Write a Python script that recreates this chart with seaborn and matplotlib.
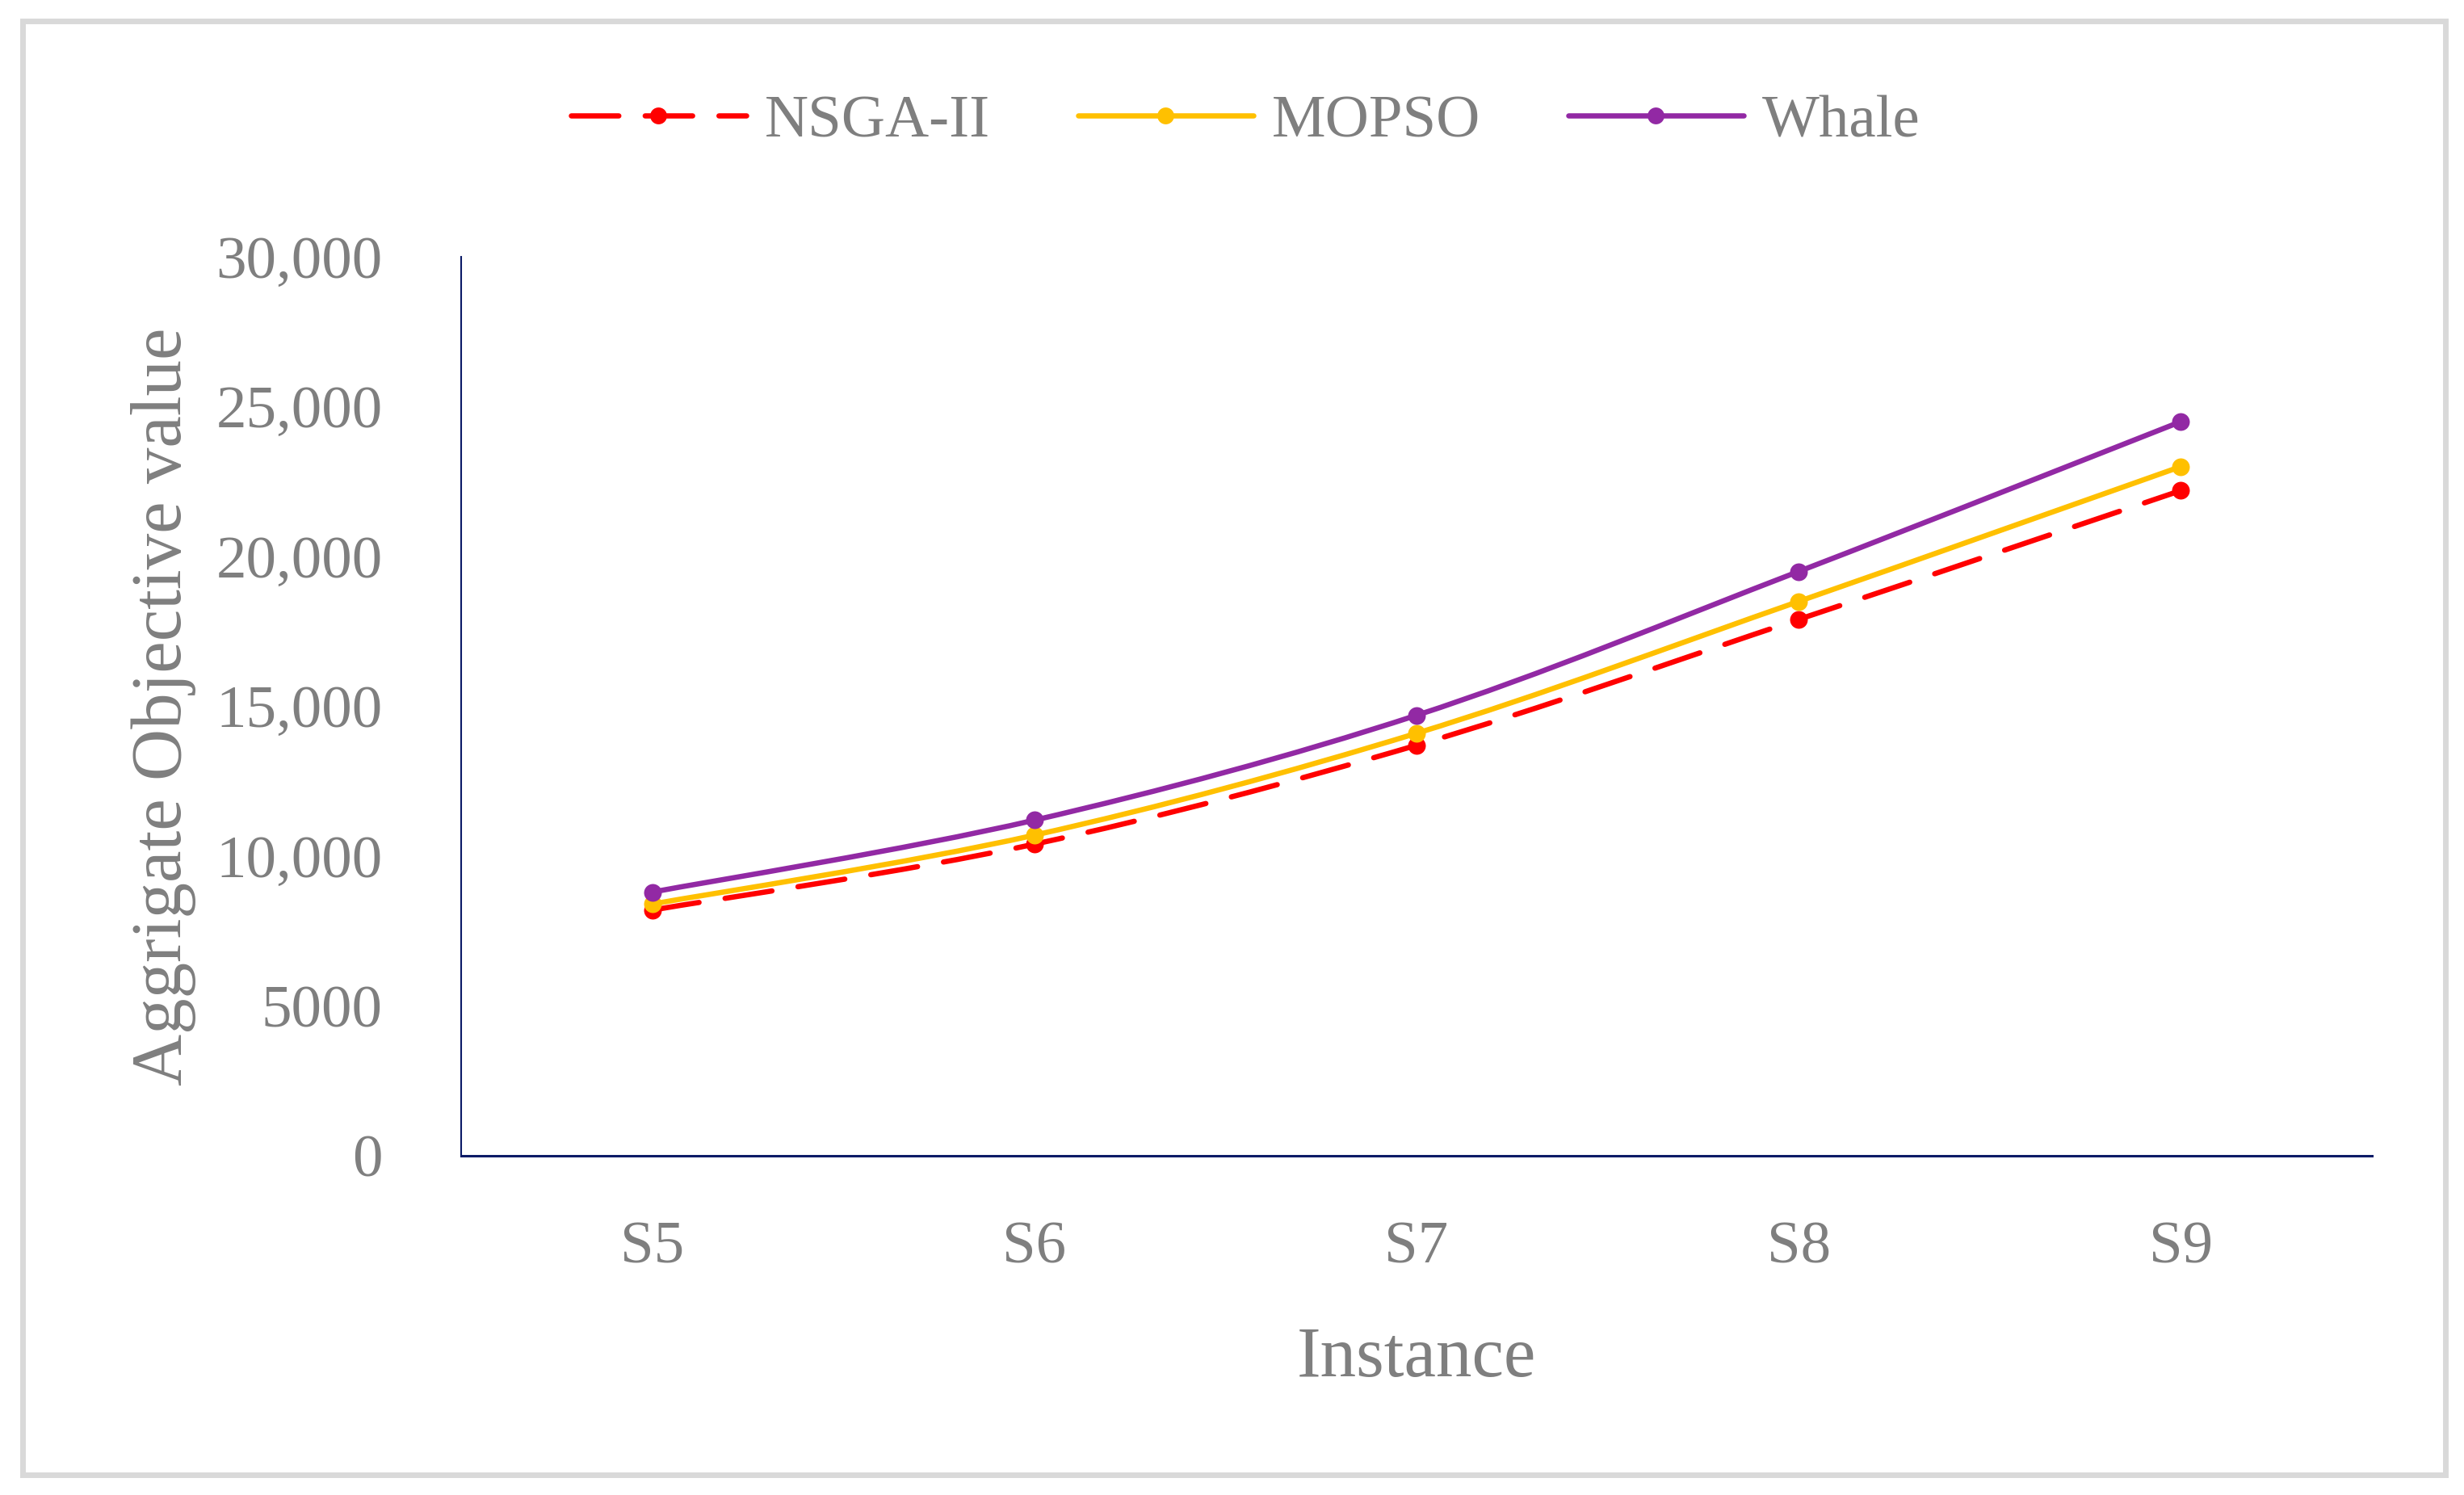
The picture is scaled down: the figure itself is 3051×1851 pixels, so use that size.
import matplotlib
matplotlib.use("Agg")
import matplotlib.pyplot as plt
import seaborn as sns
import numpy as np
import pandas as pd
from matplotlib.path import Path
from matplotlib.patches import PathPatch, Rectangle
from matplotlib.lines import Line2D
from matplotlib.ticker import FuncFormatter

# data
instances = ["S5", "S6", "S7", "S8", "S9"]
nsga_ii = [8200, 10400, 13700, 17900, 22200]
mopso = [8400, 10700, 14100, 18500, 23000]
whale = [8800, 11200, 14700, 19500, 24500]

series_names = ["NSGA-II", "MOPSO", "Whale"]
series_colors = ["#ff0000", "#ffc000", "#9229a4"]
series_dashes = [(0, (9, 5)), "solid", "solid"]

text_gray = "#7f7f7f"
axis_color = "#0a1a66"

sns.set_theme(style="white")
plt.rcParams["font.family"] = ["Liberation Serif", "DejaVu Serif"]

df = pd.DataFrame({"Instance": instances * 3,
                   "Value": nsga_ii + mopso + whale,
                   "Algorithm": np.repeat(series_names, len(instances))})
df["x"] = np.tile(np.arange(len(instances)), 3)

W, H = 3051, 1851
fig = plt.figure(figsize=(W / 100, H / 100), dpi=100)
ax = fig.add_axes([571 / W, 1 - 1431 / H, (2937 - 571) / W, (1431 - 318) / H])


def smooth_path(xs, ys):
    # Excel-style smoothed line: Catmull-Rom segments as cubic Bezier
    xs = np.asarray(xs, float)
    ys = np.asarray(ys, float)
    n = len(xs)
    verts = [(xs[0], ys[0])]
    codes = [Path.MOVETO]
    for i in range(n - 1):
        p0 = i - 1 if i > 0 else i
        p3 = i + 2 if i + 2 < n else i + 1
        c1 = (xs[i] + (xs[i + 1] - xs[p0]) / 6, ys[i] + (ys[i + 1] - ys[p0]) / 6)
        c2 = (xs[i + 1] - (xs[p3] - xs[i]) / 6, ys[i + 1] - (ys[p3] - ys[i]) / 6)
        verts += [c1, c2, (xs[i + 1], ys[i + 1])]
        codes += [Path.CURVE4] * 3
    return Path(verts, codes)


handles = []
for k, name in enumerate(series_names):
    sub = df[df["Algorithm"] == name]
    patch = PathPatch(smooth_path(sub["x"], sub["Value"]), facecolor="none",
                      edgecolor=series_colors[k], linewidth=4.7,
                      linestyle=series_dashes[k], capstyle="round",
                      joinstyle="round", zorder=3 + k)
    ax.add_patch(patch)
    sns.scatterplot(data=sub, x="x", y="Value", ax=ax, color=series_colors[k],
                    s=250, linewidth=0, zorder=3 + k, legend=False)
    handles.append(Line2D([], [], color=series_colors[k], linewidth=4.7,
                          linestyle=series_dashes[k], dash_capstyle="round",
                          solid_capstyle="round", marker="o", markersize=15,
                          markeredgewidth=0))

ax.set_xlim(-0.5, len(instances) - 0.5)
ax.set_ylim(0, 30000)
ax.set_xticks(range(len(instances)))
ax.set_xticklabels(instances)
ax.set_yticks(range(0, 30001, 5000))
ax.yaxis.set_major_formatter(FuncFormatter(lambda v, p: "0" if v == 0 else (f"{int(v)}" if v < 10000 else f"{int(v):,}")))
ax.tick_params(axis="both", length=0, labelsize=54, colors=text_gray)
ax.tick_params(axis="x", pad=58)
ax.tick_params(axis="y", pad=70)

ax.set_xlabel("Instance", fontsize=64, color=text_gray, labelpad=45)
ax.set_ylabel("Aggrigate Objective value", fontsize=64, color=text_gray, labelpad=18)

for side in ["top", "right"]:
    ax.spines[side].set_visible(False)
ax.spines["left"].set_color(axis_color)
ax.spines["left"].set_linewidth(1.5)
ax.spines["bottom"].set_color(axis_color)
ax.spines["bottom"].set_linewidth(2.2)

fig.legend(handles, series_names, loc="center", bbox_to_anchor=(1542 / W, 1 - 151 / H),
           ncol=3, frameon=False, fontsize=54, handlelength=2.9, handletextpad=0.3,
           columnspacing=1.45, labelcolor=text_gray)

fig.patches.append(Rectangle((28 / W, 1 - 1826 / H), (3028 - 28) / W, (1826 - 26) / H,
                             transform=fig.transFigure, fill=False,
                             edgecolor="#d9d9d9", linewidth=5, zorder=0))

fig.savefig("out.png", dpi=100, facecolor="white")
